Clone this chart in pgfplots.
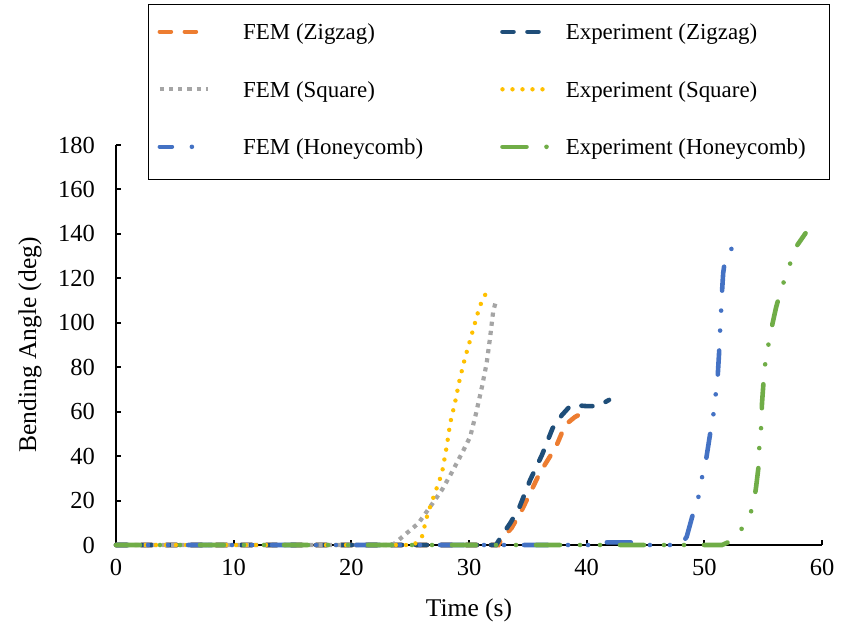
\documentclass[border=0pt]{standalone}
\usepackage{fontspec}
\setmainfont{Liberation Serif}
\usepackage{pgfplots}
\pgfplotsset{compat=1.18}
\definecolor{femzig}{HTML}{ED7D31}
\definecolor{expzig}{HTML}{1F4E79}
\definecolor{femsq}{HTML}{A5A5A5}
\definecolor{expsq}{HTML}{FFC000}
\definecolor{femhc}{HTML}{4472C4}
\definecolor{exphc}{HTML}{70AD47}

\begin{document}
\begin{tikzpicture}
\begin{axis}[
  scale only axis, width=353bp, height=200bp,
  xmin=0, xmax=60, ymin=0, ymax=180,
  xtick={0,10,...,60}, ytick={0,20,...,180},
  axis lines=left,
  axis line style={-, line width=1bp, black},
  tick align=inside, major tick length=2.5bp,
  tick style={black, line width=1bp},
  clip=false,
  /pgf/number format/assume math mode=true,
  ticklabel style={font=\fontsize{12.3}{14}\selectfont},
  xticklabel style={yshift=-3.5bp},
  yticklabel style={xshift=-7bp},
  label style={font=\fontsize{12.8}{15}\selectfont},
  xlabel={Time (s)}, ylabel={Bending Angle (deg)},
  xlabel style={at={(axis description cs:0.5,-0.1625)}, anchor=center},
  ylabel style={at={(axis description cs:-0.1218,0.5)}, anchor=center},
  legend columns=2,
  legend image code/.code={\draw[#1] (0bp,0.8bp) -- (24bp,0.8bp);},
  legend style={at={(axis description cs:0.0453,1.355)}, anchor=north west,
    draw=black, line width=0.6bp, fill=white,
    inner xsep=4.5bp, inner ysep=9.5bp, yshift=-0.5bp,
    column sep=0pt, row sep=17.75bp,
    font=\fontsize{11.5}{13}\selectfont,
    nodes={inner sep=0pt, text height=8bp, text depth=3bp, yshift=-0.6bp}},
]
\path (axis description cs:-0.1643,-0.21) rectangle (axis description cs:1.0269,1.3625);

\addplot[femzig, line width=2.3bp, line cap=round, dash pattern=on 5.5bp off 7bp]
  coordinates {(0,0) (32.5,0) (32.9,3.7) (33.6,7.5) (34.5,15.8) (35.45,26.2) (36.0,32.3)
  (36.7,38.3) (37.4,44.3) (38.0,51.8) (38.4,55) (39.0,57.6) (39.6,59.3) (39.9,57.5)};
\addlegendentry{\hspace{16.5bp}\makebox[128.5bp][l]{FEM (Zigzag)}}

\addplot[expzig, line width=2.3bp, line cap=round, dash pattern=on 5.5bp off 7bp]
  coordinates {(0,0) (32.3,0) (32.9,5.2) (33.5,9.8) (34.3,17.2) (35.2,29.3) (36.2,40.5)
  (37.1,52.5) (37.9,58.5) (38.5,62) (38.8,63) (40.0,62.5) (40.7,62.5) (41.4,63.8) (41.9,65.3)};
\addlegendentry{\hspace{6.5bp}\makebox[127.5bp][l]{Experiment (Zigzag)}}

\addplot[femsq, line width=2.1bp, line cap=butt, dash pattern=on 2.1bp off 2.5bp]
  coordinates {(0,0) (23.5,0) (23.7,0.8) (24.7,5.3) (25.7,9.8) (26.7,17.2) (27.7,24.8)
  (28.5,32.3) (29.4,41.3) (30.1,48.7) (30.6,59.3) (31.1,71.2) (31.5,81.8) (31.8,93.7)
  (32.05,105) (32.3,110)};
\addlegendentry{\hspace{16.5bp}\makebox[128.5bp][l]{FEM (Square)}}

\addplot[expsq, line width=2.2bp, line cap=round, dash pattern=on 0bp off 5bp]
  coordinates {(0,0) (25.3,0) (26.0,3.7) (26.5,14.3) (27.1,23.3) (27.7,32.3) (28.1,44.2)
  (28.4,54.8) (28.8,63.8) (29.2,74.3) (29.65,84) (30.1,92.3) (30.5,99.8) (30.9,107.3)
  (31.5,114)};
\addlegendentry{\hspace{6.5bp}\makebox[127.5bp][l]{Experiment (Square)}}

\addplot[femhc, line width=2.3bp, line cap=round,
  dash pattern=on 12bp off 10bp on 0bp off 10bp on 0bp off 10bp, dash phase=6bp]
  coordinates {(0,0) (41.3,0) (41.5,1.2) (44.3,1.2) (44.6,0) (48.2,0) (48.3,2.2) (48.5,3.7)
  (49.05,14.3) (49.5,21.7) (49.75,29.3) (50.1,36.8) (50.5,50.3) (50.75,57.7) (50.9,65.3)
  (51.1,72.8) (51.25,86.2) (51.3,93.7) (51.4,101) (51.45,109.5) (51.6,122.3) (51.8,130)
  (52.45,134.2)};
\addlegendentry{\hspace{16.5bp}\makebox[128.5bp][l]{FEM (Honeycomb)}}

\addplot[exphc, line width=2.3bp, line cap=round,
  dash pattern=on 12bp off 10bp on 0bp off 10bp on 0bp off 10bp]
  coordinates {(0,0) (51.5,0) (52.3,1.9) (53.2,7.5) (53.9,14.3) (54.15,17.2) (54.4,26.2)
  (54.6,35) (54.65,42.8) (54.8,50.3) (54.9,63.8) (55.0,71.2) (55.1,78.8) (55.3,86.2)
  (55.8,99.8) (56.1,107) (56.5,114.5) (57.0,122.3) (57.8,134.2) (58.6,140.3)};
\addlegendentry{\hspace{6.5bp}\makebox[127.5bp][l]{Experiment (Honeycomb)}}
\end{axis}
\end{tikzpicture}
\end{document}
